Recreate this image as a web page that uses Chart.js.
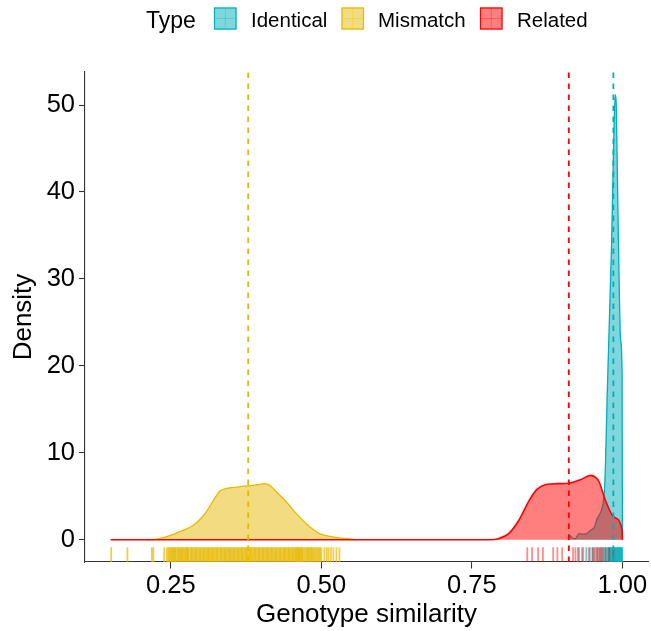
<!DOCTYPE html>
<html>
<head>
<meta charset="utf-8">
<script src="https://cdn.jsdelivr.net/npm/chart.js@4.4.1/dist/chart.umd.min.js"></script>
<style>
  body { margin: 0; background: #fff; }
  #wrap { width: 651px; height: 631px; position: relative; }
</style>
</head>
<body>
<div id="wrap"><canvas id="chart"></canvas></div>
<script>
// groups
const groups = ['Identical', 'Mismatch', 'Related'];
const colors = ['#00AFBB', '#E7B800', '#FF0000'];
const fills = ['rgba(0,175,187,0.5)', 'rgba(231,184,0,0.5)', 'rgba(255,0,0,0.5)'];
const rugColors = ['rgba(0,175,187,0.6)', 'rgba(231,184,0,0.7)', 'rgba(255,0,0,0.45)'];

// density curves
const identX = [0.9105, 0.911, 0.916, 0.921, 0.928, 0.934, 0.94, 0.947, 0.953, 0.958, 0.962, 0.966, 0.970, 0.972, 0.9745, 0.977, 0.9795, 0.982, 0.985, 0.988, 0.9895, 0.991, 0.993, 0.995, 0.997, 0.9995, 1.0];
const identY = [0, 0.6, 0.25, 0.1, 0.7, 0.65, 0.7, 1.1, 1.4, 2.4, 2.9, 3.6, 5.5, 9, 16, 22, 28, 34, 44, 51.2, 50.5, 45, 36, 28, 23, 19, 0];

const mismX = [0.21, 0.225, 0.238, 0.252, 0.2654, 0.2874, 0.3068, 0.3205, 0.3316, 0.3427, 0.3593, 0.3785, 0.3924, 0.4061, 0.4144, 0.4255, 0.442, 0.4586, 0.4778, 0.4972, 0.519, 0.541, 0.56];
const mismY = [0, 0.05, 0.25, 0.55, 0.95, 1.66, 3.0, 4.5, 5.6, 5.9, 6.06, 6.2, 6.3, 6.45, 6.26, 5.5, 4.34, 3.0, 1.66, 0.7, 0.33, 0.13, 0];

const relX = [0.15, 0.78, 0.795, 0.811, 0.828, 0.845, 0.858, 0.873, 0.892, 0.911, 0.93, 0.947, 0.955, 0.961, 0.972, 0.986, 0.9995, 1.0];
const relY = [0, 0, 0.14, 0.7, 2.24, 4.5, 5.8, 6.35, 6.45, 6.5, 6.9, 7.4, 7.2, 6.7, 4.5, 2.6, 1.1, 0];

// group means (dashed lines)
const means = [0.985, 0.3785, 0.911];

// rug values
const identRug = [0.926, 0.935, 0.940, 0.946, 0.951, 0.955, 0.958, 0.962, 0.965, 0.968, 0.970, 0.972, 0.974, 0.976, 0.977, 0.978, 0.979, 0.980, 0.981, 0.982, 0.983, 0.984, 0.985, 0.986, 0.987, 0.988, 0.989, 0.990, 0.991, 0.992, 0.993, 0.994, 0.995, 0.996, 0.997, 0.998, 0.999, 1.0];
const mismRug = [0.151, 0.178, 0.2185, 0.221, 0.239, 0.2435, 0.246, 0.2475, 0.2495, 0.251, 0.2525, 0.254, 0.2555, 0.2575, 0.258, 0.2605, 0.262,
  0.2635, 0.265, 0.2665, 0.268, 0.2695, 0.271, 0.273, 0.2745, 0.276, 0.2775, 0.278, 0.2795,
  0.282,0.284,0.285,0.287,0.289,0.291,0.292,0.294,0.296,0.298,0.299,0.301,0.303,0.305,0.306,0.308,0.310,0.312,0.313,0.315,
  0.317,0.319,0.320,0.322,0.324,0.326,0.327,0.329,0.331,0.333,0.334,0.336,0.338,0.340,0.341,0.343,0.345,0.347,0.348,0.350,
  0.352,0.354,0.355,0.357,0.359,0.361,0.362,0.364,0.366,0.368,0.369,0.371,0.373,0.375,0.376,0.378,0.380,0.382,0.383,0.385,
  0.387,0.389,0.390,0.392,0.394,0.396,0.397,0.399,0.401,0.403,0.404,0.406,0.408,0.410,0.411,0.413,0.415,0.417,0.418,0.420,
  0.422,0.424,0.425,0.427,0.429,0.431,0.432,0.434,0.436,0.438,0.439,0.441,0.443,0.445,0.446,0.448,0.450,0.452,0.453,
  0.455, 0.457, 0.458, 0.459, 0.461, 0.462, 0.463, 0.464, 0.466, 0.467, 0.468, 0.470, 0.472, 0.474, 0.476, 0.478, 0.479,
  0.481, 0.483, 0.484, 0.486, 0.488, 0.490, 0.492, 0.494, 0.496, 0.498, 0.500, 0.505, 0.509, 0.512, 0.516, 0.520, 0.525, 0.530];
const relRug = [0.842, 0.850, 0.860, 0.868, 0.885, 0.892, 0.900, 0.918, 0.922, 0.928, 0.933, 0.944, 0.950, 0.953, 0.958, 0.961, 0.964, 0.967, 0.972, 0.978, 0.985];

const xTicks = [0.25, 0.50, 0.75, 1.00];
const yTicks = [0, 10, 20, 30, 40, 50];
const xMin = 0.1075, xMax = 1.0425;
const yMin = -2.56, yMax = 53.8;

const FONT = "'Liberation Sans', Arial, sans-serif";
Chart.defaults.font.family = FONT;
Chart.defaults.color = '#000';

function zip(xs, ys) { return xs.map((x, i) => ({ x: x, y: ys[i] })); }

const curves = [zip(identX, identY), zip(mismX, mismY), zip(relX, relY)];
const rugs = [identRug, mismRug, relRug];

const datasets = [];
curves.forEach((pts, i) => {
  datasets.push({
    label: groups[i],
    data: pts,
    borderColor: colors[i],
    backgroundColor: fills[i],
    borderWidth: i === 2 ? 1.6 : 1.3,
    fill: 'origin',
    pointRadius: 0,
    cubicInterpolationMode: 'monotone',
    order: 10 - i
  });
});
means.forEach((m, i) => {
  datasets.push({
    label: groups[i] + ' mean',
    data: [{ x: m, y: yMin }, { x: m, y: yMax }],
    borderColor: colors[i],
    borderWidth: 1.8,
    borderDash: [5.5, 5.5],
    fill: false,
    pointRadius: 0,
    order: 3 - i
  });
});

const rugPlugin = {
  id: 'rug',
  beforeDatasetsDraw(chart) {
    const { ctx, chartArea, scales } = chart;
    const len = (chartArea.bottom - chartArea.top) * 0.03;
    ctx.save();
    ctx.lineWidth = 1.8;
    rugs.forEach((vals, i) => {
      ctx.strokeStyle = rugColors[i];
      vals.forEach(v => {
        const px = scales.x.getPixelForValue(v);
        ctx.beginPath();
        ctx.moveTo(px, chartArea.bottom);
        ctx.lineTo(px, chartArea.bottom - len);
        ctx.stroke();
      });
    });
    ctx.restore();
  }
};

const legendPlugin = {
  id: 'typeLegend',
  afterDraw(chart) {
    const ctx = chart.ctx;
    ctx.save();
    ctx.fillStyle = '#000';
    ctx.textBaseline = 'alphabetic';
    ctx.font = '23px ' + FONT;
    ctx.fillText('Type', 146, 28);
    const boxX = [214, 341.5, 480];
    const textX = [251, 378, 517];
    ctx.font = '20.5px ' + FONT;
    groups.forEach((g, i) => {
      const bx = boxX[i], by = 7.5, w = 22.5, h = 22;
      ctx.fillStyle = fills[i];
      ctx.fillRect(bx, by, w, h);
      ctx.strokeStyle = colors[i];
      ctx.lineWidth = 1.2;
      ctx.strokeRect(bx + 0.5, by + 0.5, w - 1, h - 1);
      ctx.strokeStyle = rugColors[i].replace(/[\d.]+\)$/, '0.3)');
      ctx.lineWidth = 1;
      ctx.beginPath();
      ctx.moveTo(bx + w / 2, by + 1); ctx.lineTo(bx + w / 2, by + h - 1);
      ctx.moveTo(bx + 1, by + h / 2); ctx.lineTo(bx + w - 1, by + h / 2);
      ctx.stroke();
      ctx.fillStyle = '#000';
      ctx.fillText(g, textX[i], 27);
    });
    ctx.restore();
  }
};

new Chart(document.getElementById('chart'), {
  type: 'line',
  data: { datasets: datasets },
  options: {
    responsive: true,
    maintainAspectRatio: false,
    animation: false,
    events: [],
    layout: { padding: { top: 72, right: 3, left: 0, bottom: 0 } },
    plugins: { legend: { display: false }, tooltip: { enabled: false } },
    scales: {
      x: {
        type: 'linear',
        min: xMin, max: xMax,
        afterBuildTicks: s => { s.ticks = xTicks.map(v => ({ value: v })); },
        afterFit: s => { s.height = 69; s.paddingLeft = 0; s.paddingRight = 0; },
        ticks: { callback: v => v.toFixed(2), font: { size: 25.5 }, color: '#000', padding: 2, maxRotation: 0, autoSkip: false },
        grid: { display: true, drawOnChartArea: false, drawTicks: true, tickLength: 6.5, tickColor: '#333', tickWidth: 1.1 },
        border: { display: true, color: '#333', width: 1.1 },
        title: { display: true, text: 'Genotype similarity', font: { size: 26 }, color: '#000', padding: { top: 0, bottom: 1 } }
      },
      y: {
        type: 'linear',
        min: yMin, max: yMax,
        afterBuildTicks: s => { s.ticks = yTicks.map(v => ({ value: v })); },
        afterFit: s => { s.width = 85; },
        ticks: { font: { size: 25.5 }, color: '#000', padding: 4 },
        grid: { display: true, drawOnChartArea: false, drawTicks: true, tickLength: 6, tickColor: '#333', tickWidth: 1.1 },
        border: { display: true, color: '#333', width: 1.1 },
        title: { display: true, text: 'Density', font: { size: 26 }, color: '#000', padding: { top: 8, bottom: 0 } }
      }
    }
  },
  plugins: [rugPlugin, legendPlugin]
});
</script>
</body>
</html>
